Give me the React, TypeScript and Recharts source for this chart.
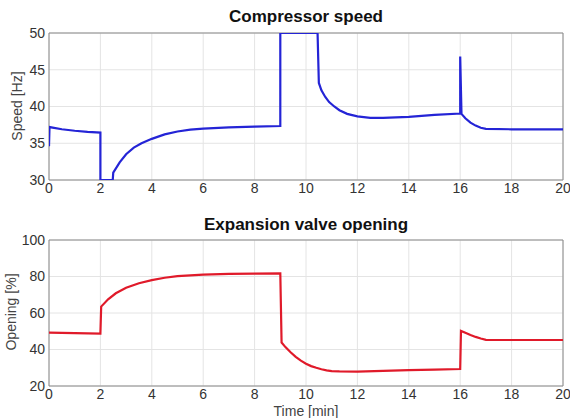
import React from 'react';
import { LineChart, Line, XAxis, YAxis, CartesianGrid, ReferenceArea } from 'recharts';

// Compressor speed [Hz] vs time [min]
const speedTime = [0, 0.02, 0.5, 1.0, 1.5, 2.0, 2.0, 2.48, 2.5, 2.75, 3.0, 3.3, 3.6, 4.0, 4.5, 5.0, 5.5, 6.0, 7.0, 8.0, 9.0, 9.0, 10.45, 10.5, 10.6, 10.75, 10.9, 11.1, 11.3, 11.6, 12.0, 12.5, 13.0, 14.0, 15.0, 16.0, 16.0, 16.05, 16.2, 16.4, 16.6, 16.8, 17.0, 18.0, 20.0];
const speedValues = [34.6, 37.2, 36.9, 36.7, 36.55, 36.45, 30.0, 30.0, 31.0, 32.4, 33.5, 34.4, 35.0, 35.6, 36.2, 36.6, 36.85, 37.0, 37.15, 37.25, 37.35, 50, 50, 43.2, 42.2, 41.3, 40.6, 40.0, 39.5, 39.0, 38.65, 38.45, 38.45, 38.6, 38.85, 39.05, 46.8, 39.0, 38.4, 37.8, 37.4, 37.1, 36.95, 36.9, 36.9];

// Expansion valve opening [%] vs time [min]
const valveTime = [0, 1.0, 2.0, 2.03, 2.3, 2.6, 3.0, 3.5, 4.0, 4.5, 5.0, 6.0, 7.0, 8.0, 9.0, 9.05, 9.2, 9.4, 9.6, 9.8, 10.0, 10.2, 10.4, 10.6, 10.8, 11.0, 11.3, 12.0, 13.0, 14.0, 15.0, 16.0, 16.03, 16.2, 16.4, 16.6, 16.8, 17.0, 18.0, 20.0];
const valveValues = [49.3, 49.0, 48.7, 63.5, 67.5, 70.8, 73.8, 76.3, 78.0, 79.3, 80.2, 81.0, 81.4, 81.6, 81.7, 43.8, 41.3, 38.5, 36.0, 33.9, 32.2, 30.9, 30.0, 29.2, 28.6, 28.2, 28.0, 27.9, 28.3, 28.7, 29.0, 29.3, 50.2, 49.2, 48.0, 46.9, 46.0, 45.3, 45.2, 45.2];

const xTicks = [0, 2, 4, 6, 8, 10, 12, 14, 16, 18, 20];
const speedTicks = [30, 35, 40, 45, 50];
const valveTicks = [20, 40, 60, 80, 100];

const speedData = speedTime.map((t, i) => ({ t, v: speedValues[i] }));
const valveData = valveTime.map((t, i) => ({ t, v: valveValues[i] }));

const FONT = '"Liberation Sans", Arial, Helvetica, sans-serif';
const tickStyle = { fontSize: 14, fill: '#333', fontFamily: FONT };

const titleStyle: React.CSSProperties = {
  position: 'absolute', left: 49, width: 514, textAlign: 'center',
  fontFamily: FONT, fontWeight: 'bold', fontSize: 17, color: '#111', lineHeight: '20px',
};
const ylabStyle: React.CSSProperties = {
  position: 'absolute', width: 120, textAlign: 'center', fontFamily: FONT,
  fontSize: 14, color: '#444', lineHeight: '16px', transform: 'rotate(-90deg)',
};

function Panel(props: { data: { t: number; v: number }[]; ticks: number[]; domain: [number, number]; color: string; height: number; xHeight: number }) {
  const { data, ticks, domain, color, height, xHeight } = props;
  return (
    <LineChart width={570} height={height} data={data} margin={{ top: 12, right: 7, bottom: 0, left: 0 }}>
      <CartesianGrid stroke="#e4e4e4" horizontalValues={ticks} verticalValues={xTicks} />
      <XAxis type="number" dataKey="t" domain={[0, 20]} ticks={xTicks} allowDataOverflow
        height={xHeight} axisLine={false} tickLine={false} tickSize={0} tickMargin={3} tick={tickStyle} interval={0} />
      <YAxis type="number" domain={domain} ticks={ticks} allowDataOverflow width={49}
        axisLine={false} tickLine={false} tickSize={0} tickMargin={4} tick={tickStyle} interval={0} />
      <ReferenceArea x1={0} x2={20} y1={domain[0]} y2={domain[1]} fill="none" stroke="#8a8a8a" strokeWidth={1} ifOverflow="extendDomain" />
      <Line type="linear" dataKey="v" stroke={color} strokeWidth={2.2} dot={false} isAnimationActive={false} />
    </LineChart>
  );
}

export default function App() {
  return (
    <div style={{ position: 'absolute', left: 0, top: 0, width: 570, height: 418, background: '#fff', overflow: 'hidden' }}>
      <div style={{ position: 'absolute', left: 0, top: 21 }}>
        <Panel data={speedData} ticks={speedTicks} domain={[30, 50]} color="#2424d6" height={179} xHeight={20} />
      </div>
      <div style={{ position: 'absolute', left: 0, top: 228 }}>
        <Panel data={valveData} ticks={valveTicks} domain={[20, 100]} color="#e01a2a" height={178} xHeight={20} />
      </div>
      <div style={{ ...titleStyle, top: 7 }}>Compressor speed</div>
      <div style={{ ...titleStyle, top: 215 }}>Expansion valve opening</div>
      <div style={{ ...ylabStyle, left: 17 - 60, top: 106 - 8 }}>Speed [Hz]</div>
      <div style={{ ...ylabStyle, left: 11 - 60, top: 312 - 8 }}>Opening [%]</div>
      <div style={{ position: 'absolute', left: 49, width: 514, top: 404, textAlign: 'center', fontFamily: FONT, fontSize: 14, color: '#444', lineHeight: '14px' }}>Time [min]</div>
    </div>
  );
}
